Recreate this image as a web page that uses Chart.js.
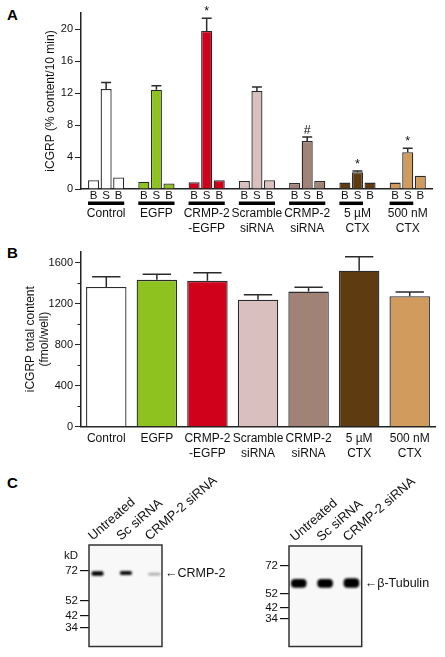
<!DOCTYPE html>
<html><head><meta charset="utf-8">
<script src="https://cdn.jsdelivr.net/npm/chart.js@4.4.1/dist/chart.umd.min.js"></script>
<style>
html,body{margin:0;padding:0;background:#fff}
body{width:445px;height:657px;position:relative;overflow:hidden;font-family:"Liberation Sans",Arial,sans-serif}
.box{position:absolute}
canvas{display:block}
.lt{position:absolute;font-weight:bold;font-size:15px;line-height:1;color:#000}
</style></head><body>
<div class="lt" style="left:7px;top:7px">A</div>
<div class="lt" style="left:7px;top:244.7px">B</div>
<div class="lt" style="left:7px;top:474.7px">C</div>
<div class="box" style="left:0;top:0;width:445px;height:238px"><canvas id="chartA" width="445" height="238"></canvas></div>
<div class="box" style="left:0;top:240px;width:445px;height:222px"><canvas id="chartB" width="445" height="222"></canvas></div>
<div class="box" style="left:0;top:460px;width:240px;height:197px"><canvas id="blotL" width="240" height="197"></canvas></div>
<div class="box" style="left:240px;top:460px;width:205px;height:197px"><canvas id="blotR" width="205" height="197"></canvas></div>
<script>
// ---------- data ----------
const groupLabels = [['Control'],['EGFP'],['CRMP-2','-EGFP'],['Scramble','siRNA'],['CRMP-2','siRNA'],['5 µM','CTX'],['500 nM','CTX']];
const groupColors = ['#ffffff','#8dc21f','#d0021b','#d9bfbd','#a08276','#5e3b10','#d29b5e'];
const basal1 = [1.1, 0.9, 0.85, 1.0, 0.75, 0.8, 0.8];
const stimulated = [12.5, 12.4, 19.75, 12.25, 6.0, 2.1, 4.6];
const basal2 = [1.45, 0.7, 1.1, 1.1, 1.0, 0.8, 1.65];
const stimulatedErr = [0.8, 0.5, 1.6, 0.5, 0.5, 0.15, 0.5];
const stimMarks = ['', '', '*', '', '#', '*', '*'];
const barLetters = ['B', 'S', 'B'];
const underlineLastBar = [2, 2, 2, 2, 2, 1, 1];
const releaseTicks = [0, 4, 8, 12, 16, 20];

const totalContent = [1365, 1435, 1425, 1240, 1320, 1525, 1275];
const totalContentErr = [100, 55, 80, 50, 42, 135, 42];
const contentTicks = [0, 400, 800, 1200, 1600];
const contentMinorTicks = [200, 600, 1000, 1400];

const lanes = ['Untreated', 'Sc siRNA', 'CRMP-2 siRNA'];
const laneX = [1, 2, 3];
const markerTicks = [34, 42, 52, 72];
const crmp2Band = [[69.0, 71.5], [69.4, 71.7], [69.2, 70.5]];
const crmp2Intensity = [1, 0.95, 0.3];
const tubulinBand = [[56.5, 62.2], [56.5, 62.2], [56.5, 62.9]];
const tubulinIntensity = [1, 1, 1];

// ---------- setup ----------
const FONT = '"Liberation Sans", Arial, sans-serif';
Chart.defaults.font.family = FONT;
Chart.defaults.color = '#111';
Chart.defaults.animation = false;
Chart.defaults.plugins.legend.display = false;
Chart.defaults.plugins.tooltip.enabled = false;
const AX = '#222';

function errorBarsPlugin(id, dsIndex, errs, capFrac, marks) {
  return {id, afterDatasetsDraw(chart) {
    const {ctx} = chart; const y = chart.scales.y;
    const meta = chart.getDatasetMeta(dsIndex); const vals = chart.data.datasets[dsIndex].data;
    ctx.save(); ctx.strokeStyle = '#2b2b2b'; ctx.lineWidth = 1.5; ctx.fillStyle = '#111';
    ctx.font = '12.5px ' + FONT; ctx.textAlign = 'center'; ctx.textBaseline = 'alphabetic';
    meta.data.forEach((bar, i) => {
      const yTop = y.getPixelForValue(vals[i] + errs[i]), yBar = y.getPixelForValue(vals[i]);
      const h = bar.width * capFrac / 2;
      ctx.beginPath(); ctx.moveTo(bar.x, yBar); ctx.lineTo(bar.x, yTop);
      ctx.moveTo(bar.x - h, yTop); ctx.lineTo(bar.x + h, yTop); ctx.stroke();
      if (marks && marks[i]) ctx.fillText(marks[i], bar.x, yTop - 3);
    });
    ctx.restore();
  }};
}

const letterPlugin = {id: 'letters', afterDatasetsDraw(chart) {
  const {ctx} = chart; const x = chart.scales.x;
  ctx.save();
  ctx.font = '11.5px ' + FONT; ctx.fillStyle = '#111'; ctx.textAlign = 'center'; ctx.textBaseline = 'middle';
  chart.data.datasets.forEach((ds, d) => {
    chart.getDatasetMeta(d).data.forEach(bar => ctx.fillText(barLetters[d], bar.x, x.top + 6.8));
  });
  ctx.strokeStyle = '#000'; ctx.lineWidth = 3.5;
  groupLabels.forEach((g, i) => {
    const f = chart.getDatasetMeta(0).data[i], l = chart.getDatasetMeta(underlineLastBar[i]).data[i];
    ctx.beginPath(); ctx.moveTo(f.x - f.width / 2, x.top + 14.3); ctx.lineTo(l.x + l.width / 2, x.top + 14.3); ctx.stroke();
  });
  ctx.restore();
}};

const minorTickPlugin = {id: 'minor', afterDraw(chart) {
  const {ctx} = chart; const y = chart.scales.y;
  ctx.save(); ctx.strokeStyle = AX; ctx.lineWidth = 1;
  contentMinorTicks.forEach(v => {
    const p = Math.round(y.getPixelForValue(v)) + 0.5;
    ctx.beginPath(); ctx.moveTo(y.right - 3.5, p); ctx.lineTo(y.right, p); ctx.stroke();
  });
  ctx.restore();
}};

// ---------- Panel A ----------
const barStyle = {backgroundColor: groupColors, borderColor: '#2b2b2b', borderWidth: 1.3, categoryPercentage: 0.75, barPercentage: 0.88};
new Chart(document.getElementById('chartA'), {
  type: 'bar',
  data: {labels: groupLabels, datasets: [
    Object.assign({data: basal1}, barStyle),
    Object.assign({data: stimulated}, barStyle),
    Object.assign({data: basal2}, barStyle)
  ]},
  options: {
    responsive: false, animation: false,
    layout: {padding: {top: 13, right: 3.5, left: 0, bottom: 0}},
    scales: {
      x: {grid: {display: false, drawTicks: false}, border: {color: AX, width: 1.5},
          afterFit: s => { s.height = 49; },
          ticks: {padding: 17, font: {size: 12, lineHeight: 1.25}, color: '#111', autoSkip: false, maxRotation: 0}},
      y: {min: 0, max: 22,
          afterBuildTicks: s => { s.ticks = releaseTicks.map(v => ({value: v})); },
          afterFit: s => { s.width = 81; },
          grid: {drawOnChartArea: false, tickLength: 6, color: AX, lineWidth: 1},
          border: {color: AX, width: 1.5},
          ticks: {padding: 2, font: {size: 11}, color: '#111', callback: v => String(v)},
          title: {display: true, text: 'iCGRP (% content/10 min)', font: {size: 12}, color: '#111', padding: {top: 43.8, bottom: 0}}}
    }
  },
  plugins: [errorBarsPlugin('errA', 1, stimulatedErr, 0.9, stimMarks), letterPlugin]
});

// ---------- Panel B ----------
new Chart(document.getElementById('chartB'), {
  type: 'bar',
  data: {labels: groupLabels, datasets: [
    {data: totalContent, backgroundColor: groupColors, borderColor: '#2b2b2b', borderWidth: 1.3, categoryPercentage: 1, barPercentage: 0.8}
  ]},
  options: {
    responsive: false, animation: false,
    layout: {padding: {top: 11.7, right: 10, left: 0, bottom: 0}},
    scales: {
      x: {grid: {display: false, drawTicks: false}, border: {color: AX, width: 1.5},
          afterFit: s => { s.height = 35.3; },
          ticks: {padding: 4, font: {size: 12, lineHeight: 1.25}, color: '#111', autoSkip: false, maxRotation: 0}},
      y: {min: 0, max: 1710,
          afterBuildTicks: s => { s.ticks = contentTicks.map(v => ({value: v})); },
          afterFit: s => { s.width = 81; },
          grid: {drawOnChartArea: false, tickLength: 6, color: AX, lineWidth: 1},
          border: {color: AX, width: 1.5},
          ticks: {padding: 2, font: {size: 11}, color: '#111', callback: v => String(v)},
          title: {display: true, text: ['iCGRP total content', '(fmol/well)'], font: {size: 12, lineHeight: 14 / 12}, color: '#111', padding: {top: 24, bottom: 0}}}
    }
  },
  plugins: [errorBarsPlugin('errB', 0, totalContentErr, 0.7, null), minorTickPlugin]
});

// ---------- Panel C ----------
const blotFrame = {id: 'blotFrame',
  beforeDatasetsDraw(chart) {
    const {ctx, chartArea: a} = chart;
    ctx.save(); ctx.fillStyle = '#f8f8f8'; ctx.fillRect(a.left, a.top, a.width, a.height); ctx.restore();
    ctx.save(); ctx.filter = 'blur(0.8px)';
  },
  afterDatasetsDraw(chart) {
    const {ctx, chartArea: a} = chart;
    ctx.restore();
    ctx.save(); ctx.strokeStyle = '#333'; ctx.lineWidth = 1.5;
    ctx.strokeRect(a.left, a.top, a.width, a.height); ctx.restore();
  }
};

function blot(id, bands, intens, label, o) {
  const yTicks = o.kd ? markerTicks.concat([o.kd]) : markerTicks;
  return new Chart(document.getElementById(id), {
    type: 'bar',
    data: {datasets: [{
      data: laneX.map((x, i) => ({x: x, y: bands[i]})),
      backgroundColor: intens.map(a => 'rgba(0,0,0,' + a + ')'),
      borderWidth: 0, borderRadius: o.radius, borderSkipped: false, barThickness: o.thickness
    }]},
    options: {
      responsive: false, animation: false,
      layout: {padding: {bottom: 3.7, top: 0, left: 0, right: 0}},
      scales: {
        x: {type: 'linear', position: 'top', min: o.xmin, max: o.xmax, offset: false,
            grid: {display: false, drawTicks: false}, border: {display: false},
            afterBuildTicks: s => { s.ticks = laneX.map(v => ({value: v})); },
            afterFit: s => { s.height = o.top; },
            ticks: {autoSkip: false, minRotation: 41, maxRotation: 41, padding: 1, labelOffset: o.labelOffset,
                    font: {size: 13}, color: '#111', callback: (v, i) => lanes[i]}},
        y: {type: 'linear', position: 'left', min: o.min, max: o.max, beginAtZero: false,
            grid: {drawOnChartArea: false, tickLength: 9, lineWidth: 1.2,
                   color: c => (c.tick && c.tick.value === o.kd) ? 'rgba(0,0,0,0)' : '#111'},
            border: {display: false},
            afterBuildTicks: s => { s.ticks = yTicks.map(v => ({value: v})); },
            afterFit: s => { s.width = o.left; },
            ticks: {padding: 2, font: {size: 11.5}, color: '#111', callback: v => v === o.kd ? 'kD' : String(v)}},
        y2: {type: 'linear', position: 'right', min: o.min, max: o.max, beginAtZero: false,
             grid: {display: false, drawTicks: false}, border: {display: false},
             afterBuildTicks: s => { s.ticks = [{value: (bands[0][0] + bands[0][1]) / 2}]; },
             afterFit: s => { s.width = o.right; },
             ticks: {padding: 3, font: {size: 12.5}, color: '#111', callback: () => label}}
      }
    },
    plugins: [blotFrame]
  });
}

blot('blotL', crmp2Band, crmp2Intensity, '\u2190CRMP-2',
     {min: 21.7, max: 89.2, kd: 82, xmin: 0.7, xmax: 3.27, top: 85, left: 89, right: 78, thickness: 11.5, radius: 2.5, labelOffset: 3});
blot('blotR', tubulinBand, tubulinIntensity, '\u2190\u03b2-Tubulin',
     {min: 13.9, max: 86.3, kd: null, xmin: 0.63, xmax: 3.39, top: 86, left: 49, right: 83.3, thickness: 15, radius: 4, labelOffset: 4});
</script>
</body></html>
